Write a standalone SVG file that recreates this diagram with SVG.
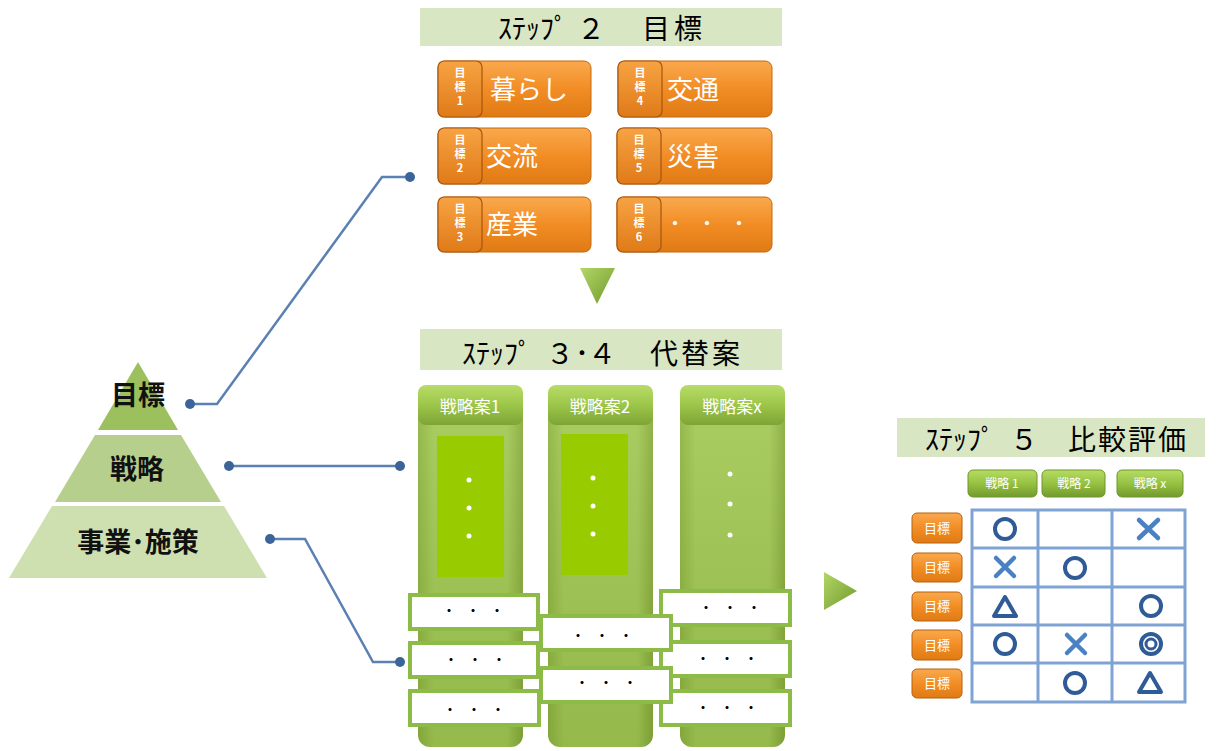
<svg xmlns="http://www.w3.org/2000/svg" width="1224" height="751" viewBox="0 0 1224 751">
<defs>
<linearGradient id="gOr" x1="0" y1="0" x2="0" y2="1">
<stop offset="0" stop-color="#f9a94e"/><stop offset="0.5" stop-color="#f28d25"/><stop offset="1" stop-color="#e07a14"/>
</linearGradient>
<linearGradient id="gOrTab" x1="0" y1="0" x2="0" y2="1">
<stop offset="0" stop-color="#f7a343"/><stop offset="1" stop-color="#e07a18"/>
</linearGradient>
<linearGradient id="gCol" x1="0" y1="0" x2="1" y2="0">
<stop offset="0" stop-color="#8db43e"/><stop offset="0.15" stop-color="#a2c952"/><stop offset="0.85" stop-color="#a2c952"/><stop offset="1" stop-color="#86ab38"/>
</linearGradient>
<linearGradient id="gColV" x1="0" y1="0" x2="0" y2="1">
<stop offset="0" stop-color="#ffffff" stop-opacity="0.1"/><stop offset="1" stop-color="#000000" stop-opacity="0.08"/>
</linearGradient>
<linearGradient id="gHead" x1="0" y1="0" x2="0" y2="1">
<stop offset="0" stop-color="#b8dc68"/><stop offset="0.5" stop-color="#9cc64a"/><stop offset="1" stop-color="#7ea436"/>
</linearGradient>
<linearGradient id="gBtn" x1="0" y1="0" x2="0" y2="1">
<stop offset="0" stop-color="#b6dc64"/><stop offset="0.5" stop-color="#96c242"/><stop offset="1" stop-color="#729a2e"/>
</linearGradient>
<linearGradient id="gTri" x1="0" y1="0" x2="1" y2="1">
<stop offset="0" stop-color="#b3d667"/><stop offset="1" stop-color="#6f9a2a"/>
</linearGradient>
<style>
.hdr{fill:#d9e6c3}
.htx{font-family:"Noto Sans CJK JP","Noto Sans",sans-serif;font-size:28px;fill:#000}
.pyr{font-family:"Noto Sans CJK JP",sans-serif;font-size:27px;font-weight:bold;fill:#111}
.obox{fill:url(#gOr);stroke:#c4680f;stroke-width:1}
.otab{fill:url(#gOrTab);stroke:#a55610;stroke-width:1.2}
.otx{font-family:"Noto Sans CJK JP",sans-serif;font-size:26px;fill:#fff}
.tab{font-family:"Noto Sans CJK JP",sans-serif;font-size:11px;font-weight:bold;fill:#fff;text-anchor:middle}
.col{fill:url(#gCol)}
.chd{fill:url(#gHead)}
.ctx{font-family:"Noto Sans CJK JP",sans-serif;font-size:17px;fill:#fff;text-anchor:middle}
.inr{fill:#99cc00}
.wbox{fill:#fff;stroke:#8dbb47;stroke-width:4}
.dots{font-family:"Noto Sans CJK JP",sans-serif;font-size:12px;font-weight:bold;fill:#000;text-anchor:middle}
.bdots{font-family:"Noto Sans CJK JP",sans-serif;font-size:16px;font-weight:bold;fill:#fff;text-anchor:middle}
.wd{fill:#fff}
.con{fill:none;stroke:#5b80b2;stroke-width:2.5}
.cdot{fill:#3d6499}
.btn{fill:url(#gBtn);stroke:#6f962c;stroke-width:1}
.btx{font-family:"Noto Sans CJK JP",sans-serif;font-size:12px;fill:#fff;text-anchor:middle}
.ob2{fill:url(#gOr);stroke:#b8600f;stroke-width:1}
.otx2{font-family:"Noto Sans CJK JP",sans-serif;font-size:13px;fill:#fff;text-anchor:middle}
.grid{fill:#fff;stroke:#7fa3d3;stroke-width:3}
.gl{stroke:#7fa3d3;stroke-width:3}
.mk{fill:none;stroke:#2f5b97;stroke-width:4}
.mx{stroke:#4a80c4;stroke-width:4.5;stroke-linecap:round}
</style>
</defs>

<g id="pyramid">
<polygon points="138,362 178,430 98,430" fill="#9dc05f"/>
<polygon points="95,435 181,435 221,502 55,502" fill="#b6cf8c"/>
<polygon points="52,506 224,506 267,578 9,578" fill="#cfe0b0"/>
<text class="pyr" x="138" y="405" text-anchor="middle">目標</text>
<text class="pyr" x="137" y="479" text-anchor="middle">戦略</text>
<text class="pyr" x="138" y="552" text-anchor="middle">事業･施策</text>
</g>

<g id="connectors">
<polyline class="con" points="190,404 217,404 382,177 410,177"/>
<circle class="cdot" cx="190" cy="404" r="5"/>
<circle class="cdot" cx="410" cy="177" r="5"/>
<line class="con" x1="229" y1="466" x2="400" y2="466"/>
<circle class="cdot" cx="229" cy="466" r="5"/>
<circle class="cdot" cx="400" cy="466" r="5"/>
<polyline class="con" points="270,539 305,539 373,662 400,662"/>
<circle class="cdot" cx="270" cy="539" r="5"/>
<circle class="cdot" cx="400" cy="662" r="5"/>
</g>

<g id="step2-header">
<rect class="hdr" x="420" y="8" width="362" height="38"/>
<text class="htx" y="39"><tspan x="498">ｽﾃｯﾌﾟ</tspan><tspan x="577">２</tspan><tspan x="642" letter-spacing="4">目標</tspan></text>
</g>

<g id="goal1">
<rect class="obox" x="438" y="61" width="153" height="56" rx="7"/>
<rect class="otab" x="438" y="61" width="44" height="56" rx="6"/>
<text class="tab"><tspan x="460" y="77">目</tspan><tspan x="460" y="91">標</tspan><tspan x="460" y="105">1</tspan></text>
<text class="otx" x="490" y="99">暮らし</text>
</g>
<g id="goal2">
<rect class="obox" x="438" y="128" width="153" height="56" rx="7"/>
<rect class="otab" x="438" y="128" width="44" height="56" rx="6"/>
<text class="tab"><tspan x="460" y="144">目</tspan><tspan x="460" y="158">標</tspan><tspan x="460" y="172">2</tspan></text>
<text class="otx" x="486" y="166">交流</text>
</g>
<g id="goal3">
<rect class="obox" x="438" y="197" width="153" height="55" rx="7"/>
<rect class="otab" x="438" y="197" width="44" height="55" rx="6"/>
<text class="tab"><tspan x="460" y="213">目</tspan><tspan x="460" y="227">標</tspan><tspan x="460" y="241">3</tspan></text>
<text class="otx" x="486" y="234">産業</text>
</g>
<g id="goal4">
<rect class="obox" x="618" y="61" width="154" height="56" rx="7"/>
<rect class="otab" x="618" y="61" width="44" height="56" rx="6"/>
<text class="tab"><tspan x="640" y="77">目</tspan><tspan x="640" y="91">標</tspan><tspan x="640" y="105">4</tspan></text>
<text class="otx" x="667" y="99">交通</text>
</g>
<g id="goal5">
<rect class="obox" x="617" y="128" width="155" height="56" rx="7"/>
<rect class="otab" x="617" y="128" width="44" height="56" rx="6"/>
<text class="tab"><tspan x="639" y="144">目</tspan><tspan x="639" y="158">標</tspan><tspan x="639" y="172">5</tspan></text>
<text class="otx" x="667" y="166">災害</text>
</g>
<g id="goal6">
<rect class="obox" x="617" y="197" width="155" height="55" rx="7"/>
<rect class="otab" x="617" y="197" width="44" height="55" rx="6"/>
<text class="tab"><tspan x="639" y="213">目</tspan><tspan x="639" y="227">標</tspan><tspan x="639" y="241">6</tspan></text>
<text class="bdots" x="707" y="229">・　・　・</text>
</g>

<g id="arrow-down">
<polygon points="580,268 615,268 597,304" fill="url(#gTri)"/>
</g>

<g id="step34-header">
<rect class="hdr" x="420" y="329" width="362" height="41"/>
<text class="htx" y="364"><tspan x="462">ｽﾃｯﾌﾟ</tspan><tspan x="546">３</tspan><tspan x="575">･</tspan><tspan x="588">４</tspan><tspan x="650" letter-spacing="3">代替案</tspan></text>
</g>

<g id="alt1">
<rect class="col" x="418" y="385" width="105" height="362" rx="12"/>
<rect fill="url(#gColV)" x="418" y="385" width="105" height="362" rx="12"/>
<rect class="chd" x="418" y="385" width="105" height="40" rx="8"/>
<text class="ctx" x="470" y="413">戦略案1</text>
<rect class="inr" x="437" y="436" width="67" height="141"/>
<circle class="wd" cx="469" cy="480" r="2.5"/><circle class="wd" cx="469" cy="508" r="2.5"/><circle class="wd" cx="469" cy="536" r="2.5"/>
</g>
<g id="alt2">
<rect class="col" x="548" y="385" width="105" height="362" rx="12"/>
<rect fill="url(#gColV)" x="548" y="385" width="105" height="362" rx="12"/>
<rect class="chd" x="548" y="385" width="105" height="40" rx="8"/>
<text class="ctx" x="600" y="413">戦略案2</text>
<rect class="inr" x="561" y="434" width="67" height="141"/>
<circle class="wd" cx="593" cy="478" r="2.5"/><circle class="wd" cx="593" cy="506" r="2.5"/><circle class="wd" cx="593" cy="534" r="2.5"/>
</g>
<g id="alt3">
<rect class="col" x="680" y="385" width="105" height="362" rx="12"/>
<rect fill="url(#gColV)" x="680" y="385" width="105" height="362" rx="12"/>
<rect class="chd" x="680" y="385" width="105" height="40" rx="8"/>
<text class="ctx" x="732" y="413">戦略案x</text>
<circle class="wd" cx="730" cy="474" r="2.5"/><circle class="wd" cx="730" cy="504" r="2.5"/><circle class="wd" cx="730" cy="535" r="2.5"/>
</g>

<g id="alt1-items">
<rect class="wbox" x="410" y="595" width="128" height="34"/>
<text class="dots" x="473" y="616">・　・　・</text>
<rect class="wbox" x="410" y="643" width="128" height="34"/>
<text class="dots" x="475" y="665">・　・　・</text>
<rect class="wbox" x="410" y="691" width="129" height="34"/>
<text class="dots" x="474" y="715">・　・　・</text>
</g>
<g id="alt3-items">
<rect class="wbox" x="661" y="591" width="129" height="34"/>
<text class="dots" x="730" y="613">・　・　・</text>
<rect class="wbox" x="661" y="642" width="129" height="34"/>
<text class="dots" x="727" y="664">・　・　・</text>
<rect class="wbox" x="661" y="691" width="129" height="34"/>
<text class="dots" x="727" y="713">・　・　・</text>
</g>
<g id="alt2-items">
<rect class="wbox" x="541" y="616" width="130" height="34"/>
<text class="dots" x="602" y="641">・　・　・</text>
<rect class="wbox" x="541" y="668" width="130" height="34"/>
<text class="dots" x="606" y="688">・　・　・</text>
</g>

<g id="arrow-right">
<polygon points="824,572 824,610 857,591" fill="url(#gTri)"/>
</g>

<g id="step5-header">
<rect class="hdr" x="897" y="418" width="308" height="39"/>
<text class="htx" y="450"><tspan x="925">ｽﾃｯﾌﾟ</tspan><tspan x="1010">５</tspan><tspan x="1068" letter-spacing="2">比較評価</tspan></text>
</g>

<g id="strategy-buttons">
<rect class="btn" x="968" y="470" width="69" height="27" rx="5"/>
<text class="btx" x="1002" y="488">戦略 1</text>
<rect class="btn" x="1042" y="470" width="63" height="27" rx="5"/>
<text class="btx" x="1074" y="488">戦略 2</text>
<rect class="btn" x="1117" y="470" width="66" height="27" rx="5"/>
<text class="btx" x="1150" y="488">戦略 x</text>
</g>

<g id="goal-buttons">
<rect class="ob2" x="912" y="513" width="50" height="30" rx="5"/><text class="otx2" x="937" y="533">目標</text>
<rect class="ob2" x="912" y="553" width="50" height="29" rx="5"/><text class="otx2" x="937" y="572">目標</text>
<rect class="ob2" x="912" y="592" width="50" height="29" rx="5"/><text class="otx2" x="937" y="611">目標</text>
<rect class="ob2" x="912" y="630" width="50" height="30" rx="5"/><text class="otx2" x="937" y="650">目標</text>
<rect class="ob2" x="912" y="669" width="50" height="29" rx="5"/><text class="otx2" x="937" y="688">目標</text>
</g>

<g id="eval-table">
<rect class="grid" x="972" y="510" width="213" height="192"/>
<line class="gl" x1="1038" y1="510" x2="1038" y2="702"/>
<line class="gl" x1="1112" y1="510" x2="1112" y2="702"/>
<line class="gl" x1="972" y1="548" x2="1185" y2="548"/>
<line class="gl" x1="972" y1="587" x2="1185" y2="587"/>
<line class="gl" x1="972" y1="625" x2="1185" y2="625"/>
<line class="gl" x1="972" y1="663" x2="1185" y2="663"/>
<circle class="mk" cx="1005" cy="529" r="10"/>
<path class="mx" d="M1139,520 L1158,538 M1158,520 L1139,538"/>
<path class="mx" d="M996,558 L1014,576 M1014,558 L996,576"/>
<circle class="mk" cx="1075" cy="568" r="10"/>
<polygon class="mk" points="1005,597 1016,616 994,616" stroke-linejoin="round"/>
<circle class="mk" cx="1151" cy="606" r="10"/>
<circle class="mk" cx="1005" cy="644" r="10"/>
<path class="mx" d="M1067,635 L1085,653 M1085,635 L1067,653"/>
<circle class="mk" cx="1151" cy="644" r="10"/>
<circle cx="1151" cy="644" r="5" fill="none" stroke="#2f5b97" stroke-width="3"/>
<circle class="mk" cx="1075" cy="683" r="10"/>
<polygon class="mk" points="1150,673 1161,692 1139,692" stroke-linejoin="round"/>
</g>
</svg>
